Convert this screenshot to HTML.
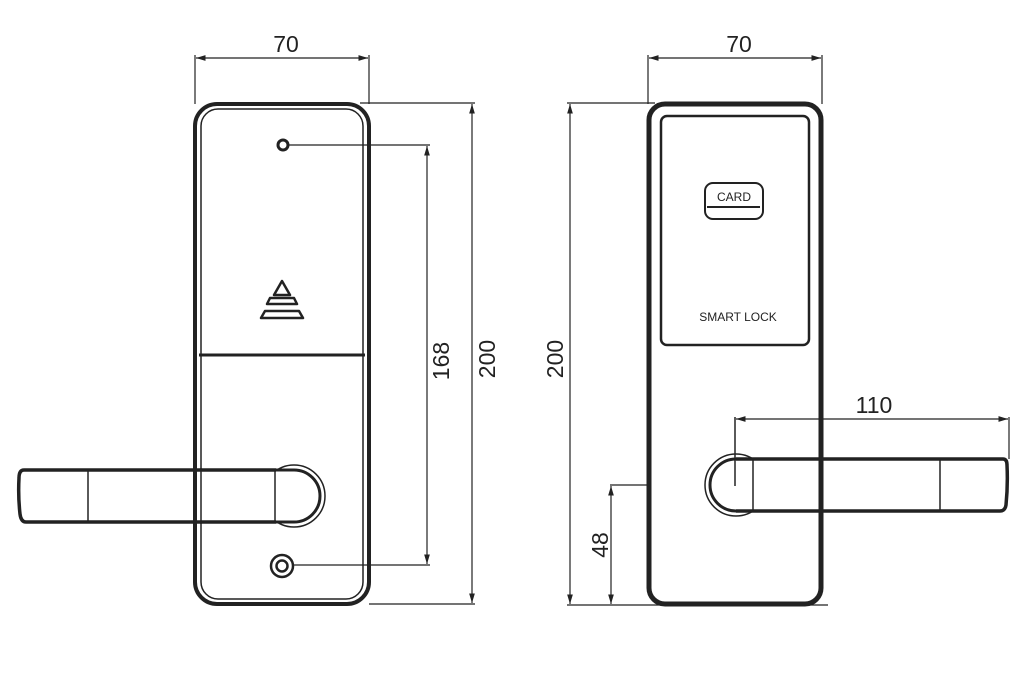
<!DOCTYPE html>
<html><head><meta charset="utf-8"><style>
html,body{margin:0;padding:0;background:#fff;width:1024px;height:675px;overflow:hidden}
svg{display:block}
text{font-family:"Liberation Sans",sans-serif;fill:#222}
</style></head><body>
<svg width="1024" height="675" viewBox="0 0 1024 675" xmlns="http://www.w3.org/2000/svg">
<defs>
<marker id="a" viewBox="0 0 10 6" refX="10" refY="3" markerWidth="8" markerHeight="5" orient="auto-start-reverse"><path d="M0,0 L10,3 L0,6 z" fill="#222"/></marker>
</defs>
<g stroke="#222" fill="none">
<!-- LEFT VIEW -->
<rect x="195" y="104" width="174" height="500" rx="22" stroke-width="4"/>
<rect x="201" y="109" width="162" height="490" rx="17" stroke-width="1.5"/>
<line x1="199" y1="355" x2="365" y2="355" stroke-width="3"/>
<circle cx="283" cy="145" r="5" stroke-width="3"/>
<circle cx="282" cy="566" r="11" stroke-width="2.5"/>
<circle cx="282" cy="566" r="5.5" stroke-width="2.5"/>
<path d="M282,281 L290,295 L274,295 Z" stroke-width="2.5" stroke-linejoin="round"/>
<path d="M270,298 L294,298 L297,304 L267,304 Z" stroke-width="2.5" stroke-linejoin="round"/>
<path d="M265,311 L299,311 L303,318 L261,318 Z" stroke-width="2.5" stroke-linejoin="round"/>
<!-- left handle -->
<circle cx="294" cy="496" r="31" stroke-width="1.5"/>
<path d="M276,470 L294,470 A26,26 0 0 1 294,522 L276,522" stroke-width="3" fill="#fff"/>
<path d="M276,470 L24,470 Q19,470 19,478 Q18,496 20,514 Q21,522 26,522 L276,522" stroke-width="3.5" fill="#fff"/>
<line x1="88" y1="471" x2="88" y2="521" stroke-width="1.5"/>
<line x1="275" y1="471" x2="275" y2="521" stroke-width="1.5"/>
<line x1="195" y1="468" x2="195" y2="524" stroke-width="4"/>
<line x1="201" y1="468" x2="201" y2="524" stroke-width="1.5"/>
<!-- left dims -->
<line x1="195" y1="55" x2="195" y2="104" stroke-width="1.2"/>
<line x1="369" y1="55" x2="369" y2="104" stroke-width="1.2"/>
<line x1="196" y1="58" x2="368" y2="58" stroke-width="1.2" marker-start="url(#a)" marker-end="url(#a)"/>
<line x1="360" y1="103" x2="475" y2="103" stroke-width="1.2"/>
<line x1="369" y1="604" x2="475" y2="604" stroke-width="1.2"/>
<line x1="472" y1="104" x2="472" y2="603" stroke-width="1.2" marker-start="url(#a)" marker-end="url(#a)"/>
<line x1="288" y1="145" x2="430" y2="145" stroke-width="1.2"/>
<line x1="293" y1="565" x2="430" y2="565" stroke-width="1.2"/>
<line x1="427" y1="146" x2="427" y2="564" stroke-width="1.2" marker-start="url(#a)" marker-end="url(#a)"/>
<!-- RIGHT VIEW -->
<rect x="649" y="104" width="172" height="500" rx="16" stroke-width="5"/>
<rect x="661" y="116" width="148" height="229" rx="6" stroke-width="2.5"/>
<rect x="705" y="183" width="58" height="36" rx="8" stroke-width="2"/>
<line x1="707" y1="207" x2="760" y2="207" stroke-width="2"/>
<!-- right handle -->
<circle cx="736" cy="485" r="31" stroke-width="1.5"/>
<path d="M754,459 L736,459 A26,26 0 0 0 736,511 L754,511" stroke-width="3" fill="#fff"/>
<path d="M736,459 L1003,459 Q1007,459 1007,465 Q1008,485 1006,505 Q1005,511 1000,511 L736,511" stroke-width="3.5" fill="#fff"/>
<line x1="753" y1="460" x2="753" y2="510" stroke-width="1.5"/>
<line x1="940" y1="460" x2="940" y2="510" stroke-width="1.5"/>
<line x1="821" y1="457" x2="821" y2="513" stroke-width="5"/>
<!-- right dims -->
<line x1="648" y1="55" x2="648" y2="104" stroke-width="1.2"/>
<line x1="822" y1="55" x2="822" y2="104" stroke-width="1.2"/>
<line x1="649" y1="58" x2="821" y2="58" stroke-width="1.2" marker-start="url(#a)" marker-end="url(#a)"/>
<line x1="567" y1="103" x2="655" y2="103" stroke-width="1.2"/>
<line x1="567" y1="605" x2="828" y2="605" stroke-width="1.2"/>
<line x1="570" y1="104" x2="570" y2="604" stroke-width="1.2" marker-start="url(#a)" marker-end="url(#a)"/>
<line x1="610" y1="485" x2="648" y2="485" stroke-width="1.2"/>
<line x1="611" y1="486" x2="611" y2="604" stroke-width="1.2" marker-start="url(#a)" marker-end="url(#a)"/>
<line x1="735" y1="417" x2="735" y2="486" stroke-width="1.5"/>
<line x1="1009" y1="417" x2="1009" y2="459" stroke-width="1.2"/>
<line x1="736" y1="419" x2="1008" y2="419" stroke-width="1.2" marker-start="url(#a)" marker-end="url(#a)"/>
</g>
<g font-size="23">
<text x="286" y="52" text-anchor="middle">70</text>
<text x="739" y="52" text-anchor="middle">70</text>
<text x="874" y="413" text-anchor="middle">110</text>
<text transform="translate(449,361) rotate(-90)" text-anchor="middle">168</text>
<text transform="translate(495,359) rotate(-90)" text-anchor="middle">200</text>
<text transform="translate(563,359) rotate(-90)" text-anchor="middle">200</text>
<text transform="translate(608,545) rotate(-90)" text-anchor="middle">48</text>
</g>
<text x="734" y="201" font-size="12" text-anchor="middle">CARD</text>
<text x="738" y="321" font-size="12" text-anchor="middle">SMART LOCK</text>
</svg>
</body></html>
